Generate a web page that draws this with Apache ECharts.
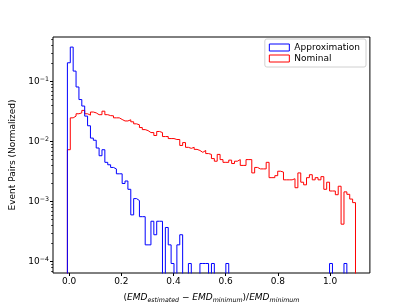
<!DOCTYPE html>
<html><head><meta charset="utf-8">
<script src="https://cdn.jsdelivr.net/npm/echarts@6/dist/echarts.min.js"></script>
<style>html,body{margin:0;padding:0;background:#fff}#c{width:411px;height:308px}</style>
</head><body><div id="c"></div>
<script>
// ---- data ----
const binLo = -0.0065;
const binHi = 1.0975;
const binCount = 100;
const seriesNames = ['Approximation', 'Nominal'];
const approximation = [
  0.205, 0.374, 0.149, 0.081, 0.050, 0.039, 0.0265, 0.0183, 0.0114, 0.0105,
  0.0078, 0.0058, 0.0073, 0.0045, 0.0041, 0.0037, 0.0035, 0.0029, 0.0029, 0.0020,
  0.0022, 0.0016, 0.00060, 0.00112, 0.00104, 0.00056, 0.00056, 0.00019, 0.00019, 0.00047,
  0.00028, 0.00047, 0.00047, 0, 0.00037, 0.00019, 0.000093, 0, 0.00019, 0.00028,
  0, 0, 0.000093, 0, 0, 0, 0.000093, 0.000093, 0.000093, 0,
  0.000093, 0, 0, 0, 0, 0.000093, 0, 0, 0, 0,
  0, 0, 0, 0, 0, 0, 0, 0, 0, 0,
  0, 0, 0, 0, 0, 0, 0, 0, 0, 0,
  0, 0, 0, 0, 0, 0, 0, 0, 0, 0,
  0, 0.000093, 0, 0, 0, 0, 0.000093, 0, 0, 0
];
const nominal = [
  0.0073, 0.0248, 0.0265, 0.029, 0.030, 0.033, 0.029, 0.0275, 0.031, 0.030,
  0.028, 0.028, 0.032, 0.028, 0.027, 0.0268, 0.0248, 0.0248, 0.0233, 0.022,
  0.022, 0.023, 0.0213, 0.0197, 0.019, 0.0171, 0.0158, 0.0152, 0.0141, 0.0141,
  0.0126, 0.0147, 0.0141, 0.0121, 0.0121, 0.0112, 0.0112, 0.0108, 0.0108, 0.0086,
  0.0096, 0.0080, 0.0077, 0.0080, 0.0074, 0.0071, 0.0066, 0.0071, 0.0063, 0.0061,
  0.0052, 0.0047, 0.0061, 0.0050, 0.0045, 0.0045, 0.0049, 0.0043, 0.0047, 0.0050,
  0.0040, 0.0040, 0.0050, 0.0050, 0.0030, 0.0037, 0.0035, 0.0035, 0.0035, 0.0045,
  0.0025, 0.0025, 0.0027, 0.0032, 0.0031, 0.0023, 0.0023, 0.0023, 0.0024, 0.0017,
  0.0030, 0.0021, 0.0019, 0.0025, 0.0028, 0.0023, 0.0025, 0.0023, 0.0026, 0.0016,
  0.0021, 0.0015, 0.0015, 0.0013, 0.0018, 0.00042, 0.00145, 0.00132, 0.0011, 0.00096
];
const xTicks = [0, 0.2, 0.4, 0.6, 0.8, 1.0];
const yTickExps = [-4, -3, -2, -1];
const yRangeExp = [-4.19, -0.259];

// ---- build ----
const FONT = 'DejaVu Sans';
const w = (binHi - binLo) / binCount;
const edges = Array.from({length: binCount + 1}, (_, i) => binLo + i * w);
const FLOOR = -12;
const toLog = v => v > 0 ? Math.log10(v) : FLOOR;
function stepPath(vals) {
  const pts = [[edges[0], FLOOR]];
  vals.forEach((v, i) => { pts.push([edges[i], toLog(v)]); pts.push([edges[i + 1], toLog(v)]); });
  pts.push([edges[binCount], FLOOR]);
  return pts;
}
const minorTicks = [];
for (let k = -5; k <= 0; k++) for (let m = 2; m <= 9; m++) {
  const lv = Math.log10(m) + k;
  if (lv > yRangeExp[0] && lv < yRangeExp[1]) minorTicks.push(lv);
}
const span = binHi - binLo;
const colors = ['#0000ff', '#ff0000'];

const chart = echarts.init(document.getElementById('c'), null, {renderer: 'canvas'});
chart.setOption({
  animation: false,
  backgroundColor: '#fff',
  textStyle: {fontFamily: FONT},
  grid: {left: 51.4, right: 41.1, top: 37, bottom: 33.9, show: true, borderColor: '#000', borderWidth: 1, backgroundColor: 'transparent'},
  legend: {
    orient: 'vertical', right: 45, top: 39,
    padding: [4, 6, 4, 4], itemGap: 2, itemWidth: 20, itemHeight: 7, itemTextGap: 6,
    backgroundColor: '#fff', borderColor: '#d0d0d0', borderWidth: 1, borderRadius: 2,
    textStyle: {fontFamily: FONT, fontSize: 9, color: '#000'},
    data: seriesNames.map((n, i) => ({name: n, icon: 'rect', itemStyle: {color: 'rgba(0,0,0,0)', borderColor: colors[i], borderWidth: 1}}))
  },
  xAxis: {
    type: 'value', min: binLo - 0.05 * span, max: binHi + 0.05 * span,
    axisLine: {show: false, onZero: false}, splitLine: {show: false},
    axisTick: {customValues: xTicks, length: 3, lineStyle: {color: '#000', width: 1}},
    axisLabel: {customValues: xTicks, formatter: v => v.toFixed(1), fontFamily: FONT, fontSize: 9, color: '#000', margin: 4},
    name: '({i|EMD}{s|estimated}{n| − }{i|EMD}{s|minimum}{n|)/}{i|EMD}{s|minimum}',
    nameLocation: 'middle', nameGap: 20,
    nameTextStyle: {
      fontFamily: FONT, fontSize: 9, color: '#000',
      rich: {
        i: {fontFamily: FONT, fontStyle: 'italic', fontSize: 9, color: '#000'},
        n: {fontFamily: FONT, fontSize: 9, color: '#000'},
        s: {fontFamily: FONT, fontStyle: 'italic', fontSize: 6.3, color: '#000', padding: [4, 0, 0, 0]}
      }
    }
  },
  yAxis: [{
    type: 'value', min: yRangeExp[0], max: yRangeExp[1], position: 'left',
    axisLine: {show: false, onZero: false}, splitLine: {show: false},
    axisTick: {customValues: yTickExps, length: 3, lineStyle: {color: '#000', width: 1}},
    axisLabel: {
      customValues: yTickExps, fontFamily: FONT, fontSize: 9, color: '#000', margin: 4,
      formatter: v => '10{sup|−' + Math.abs(v) + '}',
      rich: {sup: {fontFamily: FONT, fontSize: 6.3, color: '#000', padding: [0, 0, 5, 0]}}
    },
    name: 'Event Pairs (Normalized)', nameLocation: 'middle', nameGap: 36,
    nameTextStyle: {fontFamily: FONT, fontSize: 9, color: '#000'}
  }, {
    type: 'value', min: yRangeExp[0], max: yRangeExp[1], position: 'left', offset: 0,
    axisLine: {show: false, onZero: false}, splitLine: {show: false}, axisLabel: {show: false},
    axisTick: {customValues: minorTicks, length: 1.8, lineStyle: {color: '#000', width: 0.8}}
  }],
  series: [approximation, nominal].map((vals, i) => ({
    name: seriesNames[i], type: 'line', data: stepPath(vals), showSymbol: false, symbol: 'none',
    color: colors[i], lineStyle: {color: colors[i], width: 1}, clip: true, z: i === 0 ? 3 : 2
  }))
});
</script></body></html>
